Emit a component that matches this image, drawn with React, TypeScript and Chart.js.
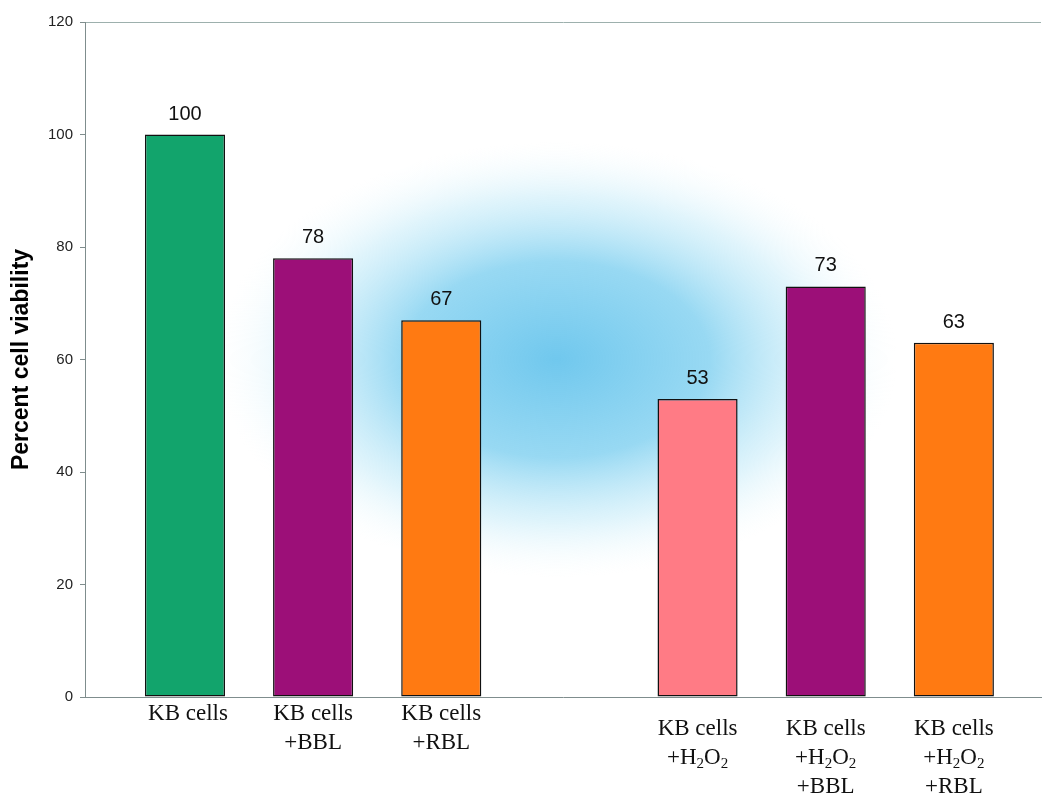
import React, { useEffect, useRef } from 'react';
import { Chart, registerables } from 'chart.js';

Chart.register(...registerables);

// ---- data ----
const categories: string[] = [
  'KB cells',
  'KB cells\n+BBL',
  'KB cells\n+RBL',
  '',
  'KB cells\n+H₂O₂',
  'KB cells\n+H₂O₂\n+BBL',
  'KB cells\n+H₂O₂\n+RBL',
];
const values: (number | null)[] = [100, 78, 67, null, 53, 73, 63];
const barColors: string[] = ['#12a46c', '#9c0f78', '#ff7a12', 'transparent', '#ff7b85', '#9c0f78', '#ff7a12'];
const yTicks: number[] = [0, 20, 40, 60, 80, 100, 120];
const yTitle = 'Percent cell viability';

const AXIS_GRAY = '#7f8d8d';
const SERIF = '"Liberation Serif", "Times New Roman", serif';
const SANS = '"Liberation Sans", Arial, sans-serif';

function drawRichLine(ctx: CanvasRenderingContext2D, line: string, cx: number, cy: number) {
  const normal = `23px ${SERIF}`;
  const sub = `15px ${SERIF}`;
  const segs: { t: string; sub: boolean }[] = [];
  for (const ch of line) {
    const isSub = ch === '₂';
    const t = isSub ? '2' : ch;
    const last = segs[segs.length - 1];
    if (last && last.sub === isSub) last.t += t;
    else segs.push({ t, sub: isSub });
  }
  let total = 0;
  const widths = segs.map((s) => {
    ctx.font = s.sub ? sub : normal;
    const w = ctx.measureText(s.t).width;
    total += w;
    return w;
  });
  let x = cx - total / 2;
  ctx.textAlign = 'left';
  ctx.textBaseline = 'middle';
  segs.forEach((s, i) => {
    ctx.font = s.sub ? sub : normal;
    ctx.fillText(s.t, x, s.sub ? cy + 6 : cy);
    x += widths[i];
  });
}

const glowPlugin = {
  id: 'glow',
  beforeDatasetsDraw(chart: any) {
    const { ctx, scales } = chart;
    const cx = scales.x.getPixelForValue(3.9);
    const cy = scales.y.getPixelForValue(60);
    const r = 340;
    ctx.save();
    ctx.beginPath();
    ctx.rect(chart.chartArea.left, chart.chartArea.top, chart.chartArea.width, chart.chartArea.height);
    ctx.clip();
    ctx.translate(cx, cy);
    ctx.scale(1, 0.64);
    const g = ctx.createRadialGradient(0, 0, 0, 0, 0, r);
    g.addColorStop(0, 'rgba(100,195,236,0.92)');
    g.addColorStop(0.45, 'rgba(112,202,238,0.72)');
    g.addColorStop(0.75, 'rgba(165,224,245,0.35)');
    g.addColorStop(1, 'rgba(230,248,252,0)');
    ctx.fillStyle = g;
    ctx.fillRect(-r, -r, 2 * r, 2 * r);
    ctx.restore();
  },
};

const valueLabelPlugin = {
  id: 'valueLabels',
  afterDatasetsDraw(chart: any) {
    const { ctx } = chart;
    const meta = chart.getDatasetMeta(0);
    const ds = chart.data.datasets[0].data as any[];
    ctx.save();
    ctx.fillStyle = '#111';
    ctx.font = `20px ${SANS}`;
    ctx.textAlign = 'center';
    ctx.textBaseline = 'alphabetic';
    meta.data.forEach((el: any, i: number) => {
      ctx.fillText(String(ds[i].y), el.x, el.y - 15);
    });
    ctx.restore();
  },
};

const xLabelPlugin = {
  id: 'xLabels',
  afterDraw(chart: any) {
    const { ctx } = chart;
    const xs = chart.scales.x;
    const bottom = chart.chartArea.bottom;
    ctx.save();
    ctx.fillStyle = '#111';
    categories.forEach((label, i) => {
      if (!label) return;
      const x = xs.getPixelForValue(i + 1);
      const shift = i > 3 ? 15 : 0;
      label.split('\n').forEach((line, j) => {
        drawRichLine(ctx, line, x + (i === 0 ? 3 : 0), bottom + 17 + shift + j * 29);
      });
    });
    ctx.restore();
  },
};

export default function App() {
  const canvasRef = useRef<HTMLCanvasElement | null>(null);

  useEffect(() => {
    if (!canvasRef.current) return;
    const points = categories
      .map((c, i) => ({ x: i + 1, y: values[i], color: barColors[i] }))
      .filter((p) => p.y !== null);

    const chart = new Chart(canvasRef.current, {
      type: 'bar',
      data: {
        datasets: [
          {
            data: points.map((p) => ({ x: p.x, y: p.y })) as any,
            backgroundColor: points.map((p) => p.color),
            borderColor: '#111',
            borderWidth: 1.5,
            borderSkipped: false,
            barPercentage: 0.625,
            categoryPercentage: 1,
          },
        ],
      },
      options: {
        responsive: false,
        animation: false,
        devicePixelRatio: 1,
        layout: { padding: { top: 22, right: 4, bottom: 0, left: 0 } },
        plugins: {
          legend: { display: false },
          tooltip: { enabled: false },
        },
        scales: {
          x: {
            type: 'linear',
            offset: false,
            min: 0.22,
            max: 7.68,
            afterBuildTicks: (axis: any) => {
              axis.ticks = categories.map((c, i) => ({ value: i + 1 }));
            },
            ticks: { display: false },
            grid: { display: false, offset: false },
            border: { display: true, color: AXIS_GRAY, width: 1 },
            afterFit: (scale: any) => {
              scale.height = 99;
            },
          },
          y: {
            type: 'linear',
            min: 0,
            max: 120,
            afterBuildTicks: (axis: any) => {
              axis.ticks = yTicks.map((v) => ({ value: v }));
            },
            ticks: {
              color: '#222',
              padding: 7,
              font: { family: SANS, size: 15 },
            },
            grid: {
              drawOnChartArea: true,
              color: (ctx: any) => (ctx.tick && ctx.tick.value === 120 ? '#9db0ad' : 'transparent'),
              tickColor: AXIS_GRAY,
              tickLength: 5,
            },
            border: { display: true, color: AXIS_GRAY, width: 1 },
            title: {
              display: true,
              text: yTitle,
              color: '#000',
              font: { family: SANS, size: 23, weight: 'bold' },
              padding: { top: 8, bottom: 0 },
            },
            afterFit: (scale: any) => {
              scale.width = 85;
            },
          },
        },
      },
      plugins: [glowPlugin, valueLabelPlugin, xLabelPlugin],
    });
    return () => chart.destroy();
  }, []);

  return (
    <div style={{ position: 'absolute', left: 0, top: 0, width: 1045, height: 796, background: '#fff' }}>
      <canvas ref={canvasRef} width={1045} height={796} />
    </div>
  );
}
